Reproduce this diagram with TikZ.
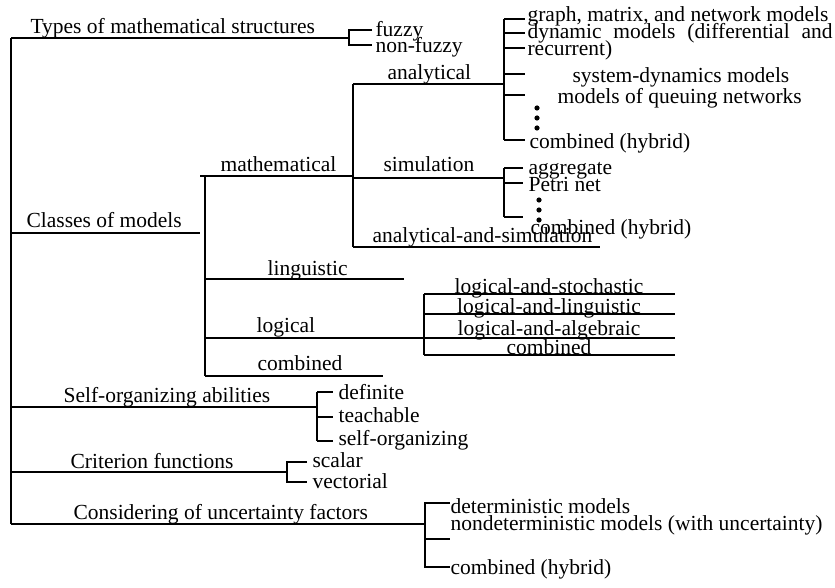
\documentclass[tikz,border=0pt]{standalone}
\usepackage{fontspec}
\setmainfont{Liberation Serif}
\begin{document}
\begin{tikzpicture}[x=1pt,y=-1pt,line width=1.1pt,
  lbl/.style={font=\fontsize{21.5}{24}\selectfont,inner sep=0pt,anchor=base west},
  clbl/.style={font=\fontsize{21.5}{24}\selectfont,inner sep=0pt,anchor=base},
  dotmark/.style={circle,fill=black,inner sep=0pt,minimum size=5.2pt}]
\useasboundingbox (0,0) rectangle (835,588);
% ---------- junction coordinates ----------
\coordinate (top) at (11,38);
\coordinate (bot) at (11,524);
\coordinate (typesE) at (349,38);
\coordinate (classW) at (11,233);
\coordinate (classE) at (200,233);
\coordinate (selfW) at (11,407);
\coordinate (selfE) at (317,407);
\coordinate (critW) at (11,472);
\coordinate (critE) at (287,472);
\coordinate (consE) at (425,524);
% main trunk
\draw (top) -- (bot);
% types
\draw (top) -- (typesE);
\draw (372,30) -- (349,30) -- (349,45) -- (372,45);
\node[lbl] (types) at (30,34) {Types of mathematical structures};
\node[lbl] (fuzzy) at (375,37) {fuzzy};
\node[lbl] (nonfuzzy) at (375,53) {non-fuzzy};
% classes
\draw (classW) -- (classE);
\node[lbl] (classes) at (26,228) {Classes of models};
\coordinate (mathA) at (205,176);
\coordinate (mathB) at (205,376);
\draw (mathA) -- (mathB);
\coordinate (mathW) at (200,176);
\coordinate (mathE) at (353,176);
\draw (mathW) -- (mathE);
\node[lbl] (mathematical) at (220,172) {mathematical};
\coordinate (subA) at (353,84);
\coordinate (subB) at (353,247);
\draw (subA) -- (subB);
% analytical
\coordinate (anaE) at (505,84);
\draw (subA) -- (anaE);
\node[lbl] (analytical) at (387,80) {analytical};
\draw (504,19) -- (504,140);
\foreach \yy in {19,33,48,74,95,140} \draw (504,\yy) -- (525,\yy);
\node[lbl] (graph) at (527,22) {graph, matrix, and network models};
\node[lbl] (dyn) at (527,39) {\makebox[305pt][s]{dynamic models (differential and}};
\node[lbl] (recur) at (527,56) {recurrent)};
\node[lbl] (sysdyn) at (572,83) {system-dynamics models};
\node[lbl] (queue) at (557,104) {models of queuing networks};
\node[dotmark] (d1) at (537,108) {};
\node[dotmark] (d2) at (537,118) {};
\node[dotmark] (d3) at (537,128) {};
\node[lbl] (comb1) at (529,149) {combined (hybrid)};
% simulation
\coordinate (simW) at (353,178);
\coordinate (simE) at (504,178);
\draw (simW) -- (simE);
\node[lbl] (simulation) at (383,172) {simulation};
\draw (504,168) -- (504,217);
\foreach \yy in {168,183,217} \draw (504,\yy) -- (523,\yy);
\node[lbl] (aggr) at (528,175) {aggregate};
\node[lbl] (petri) at (528,192) {Petri net};
\node[dotmark] (e1) at (539,200) {};
\node[dotmark] (e2) at (539,210) {};
\node[dotmark] (e3) at (539,220) {};
\node[lbl] (comb2) at (530,234) {combined (hybrid)};
% analytical-and-simulation
\draw (subB) -- (600,247);
\node[lbl] (anasim) at (372,242) {analytical-and-simulation};
% linguistic
\draw (205,279) -- (404,279);
\node[lbl] (ling) at (267,275) {linguistic};
% logical
\draw (205,338) -- (675,338);
\node[lbl] (logical) at (256,332) {logical};
\draw (424,294) -- (424,355);
\draw (424,294) -- (675,294);
\draw (424,314) -- (675,314);
\draw (424,355) -- (675,355);
\node[clbl] (lstoch) at (549,293) {logical-and-stochastic};
\node[clbl] (lling) at (549,313) {logical-and-linguistic};
\node[clbl] (lalg) at (549,335) {logical-and-algebraic};
\node[clbl] (lcomb) at (549,354) {combined};
% combined
\draw (mathB) -- (383,376);
\node[lbl] (comb3) at (257,370) {combined};
% self-organizing
\draw (selfW) -- (selfE);
\node[lbl] (selforg) at (63,402) {Self-organizing abilities};
\draw (317,392) -- (317,441);
\foreach \yy in {392,417,441} \draw (317,\yy) -- (333,\yy);
\node[lbl] (definite) at (338,399) {definite};
\node[lbl] (teach) at (338,422) {teachable};
\node[lbl] (selforg2) at (338,445) {self-organizing};
% criterion
\draw (critW) -- (critE);
\node[lbl] (crit) at (70,468) {Criterion functions};
\draw (307,462) -- (287,462) -- (287,482) -- (307,482);
\node[lbl] (scalar) at (312,467) {scalar};
\node[lbl] (vect) at (312,488) {vectorial};
% considering
\draw (bot) -- (consE);
\node[lbl] (cons) at (73,519) {Considering of uncertainty factors};
\draw (450,503) -- (425,503) -- (425,567) -- (450,567);
\draw (425,539) -- (450,539);
\node[lbl] (det) at (450,513) {deterministic models};
\node[lbl] (nondet) at (450,530) {nondeterministic models (with uncertainty)};
\node[lbl] (comb4) at (450,574) {combined (hybrid)};
\end{tikzpicture}
\end{document}
